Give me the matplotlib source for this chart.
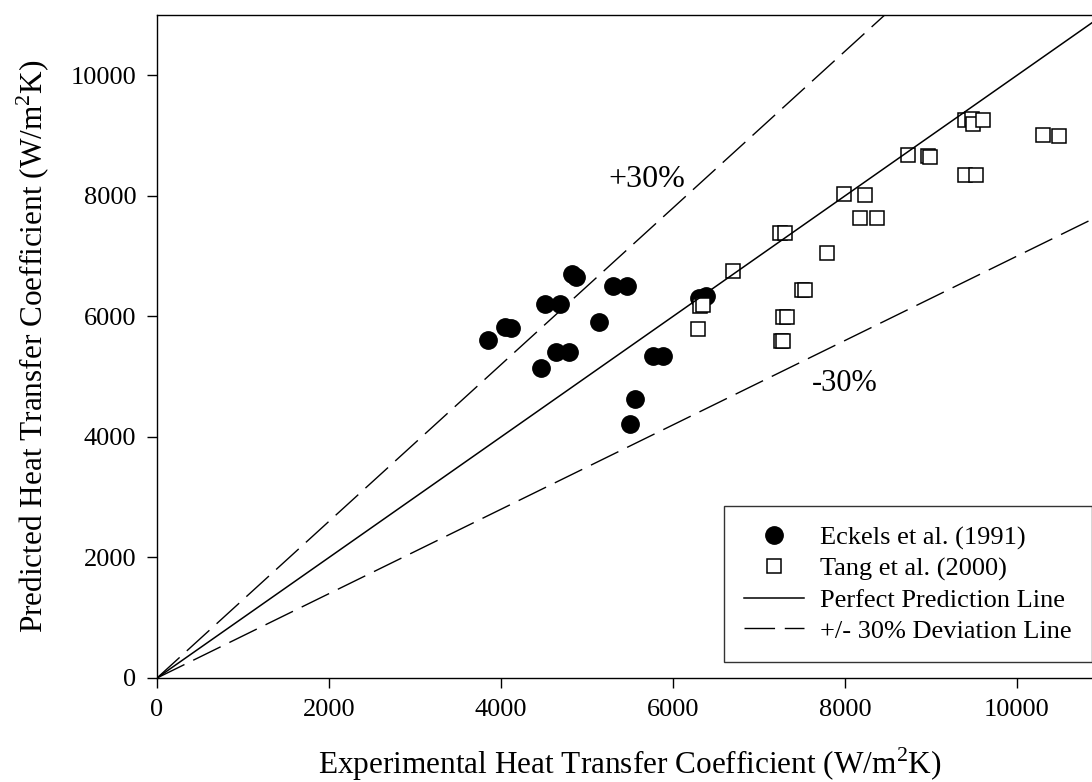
import numpy as np
import matplotlib
matplotlib.use("Agg")
import matplotlib.pyplot as plt


# Eckels et al. (1991) - experimental vs predicted (W/m2K)
eckels_exp = [3852, 4047, 4113, 4512, 4686, 4820, 4870, 4465, 4640, 4795,
              5143, 5298, 5461, 5764, 5880, 5558, 5500, 6306, 6384]
eckels_pred = [5610, 5831, 5804, 6202, 6202, 6700, 6650, 5140, 5416, 5416,
               5914, 6506, 6506, 5344, 5344, 4631, 4216, 6300, 6340]

# Tang et al. (2000)
tang_exp = [6287, 6310, 6350, 6702, 7244, 7302, 7250, 7280, 7280, 7330,
            7496, 7535, 7794, 7992, 8233, 8175, 8376, 8729, 8960, 8990,
            9395, 9523, 9400, 9480, 9490, 9610, 10298, 10492]
tang_pred = [5787, 6170, 6190, 6755, 7381, 7381, 5598, 5598, 5997, 5997,
             6440, 6440, 7059, 8033, 8017, 7635, 7635, 8680, 8660, 8652,
             8348, 8348, 9260, 9280, 9200, 9250, 9012, 8995]

eixo_max = 11000
ticks = [0, 2000, 4000, 6000, 8000, 10000]


def main():
    plt.rcParams["font.family"] = ["Liberation Serif", "DejaVu Serif"]
    plt.rcParams["mathtext.fontset"] = "custom"
    plt.rcParams["mathtext.rm"] = "Liberation Serif"

    fig = plt.figure(figsize=(10.92, 7.82), dpi=100)
    ax = fig.add_axes([0.1438, 0.133, 0.8663, 0.8478])

    ax.plot(eckels_exp, eckels_pred, linestyle="none", marker="o",
            markersize=12.5, color="black", zorder=2,
            label="Eckels et al. (1991)")
    ax.plot(tang_exp, tang_pred, linestyle="none", marker="s",
            markersize=10, markerfacecolor="white", markeredgecolor="black",
            markeredgewidth=1.1, zorder=3, label="Tang et al. (2000)")

    x = np.array([0, eixo_max])
    ax.plot(x, x, color="black", linewidth=1.1, zorder=4,
            label="Perfect Prediction Line")
    ax.plot(x, 1.3 * x, color="black", linewidth=1.0, linestyle=(0, (22, 7)),
            zorder=4, label="+/- 30% Deviation Line")
    ax.plot(x, 0.7 * x, color="black", linewidth=1.0, linestyle=(0, (22, 7)),
            zorder=4)

    ax.text(5700, 8270, "+30%", fontsize=23, ha="center", va="center")
    ax.text(8000, 4890, "-30%", fontsize=22, ha="center", va="center")

    ax.set_xlim(0, eixo_max)
    ax.set_ylim(0, eixo_max)
    ax.set_xticks(ticks)
    ax.set_yticks(ticks)
    ax.tick_params(direction="out", length=7, width=1, labelsize=19, pad=8,
                   top=False, right=False)

    for lado in ["left", "bottom", "top", "right"]:
        ax.spines[lado].set_linewidth(1.0)

    ax.set_xlabel("Experimental Heat Transfer Coefficient (W/m$^2$K)",
                  fontsize=22.5)
    ax.set_ylabel("Predicted Heat Transfer Coefficient (W/m$^2$K)",
                  fontsize=22.5)
    ax.xaxis.set_label_coords(0.5, -0.101)
    ax.yaxis.set_label_coords(-0.111, 0.5)

    leg = ax.legend(loc="upper left", bbox_to_anchor=(0.663, 0.353),
                    bbox_transform=fig.transFigure, fontsize=19,
                    frameon=True, fancybox=False, edgecolor="black",
                    borderaxespad=0, borderpad=0.75, labelspacing=0.28,
                    handlelength=2.3, handletextpad=0.6)
    leg.get_frame().set_linewidth(1.0)
    leg.legend_handles[1].set_markersize(9.5)

    fig.savefig("out.png", dpi=100)
    plt.close(fig)


if __name__ == "__main__":
    main()
